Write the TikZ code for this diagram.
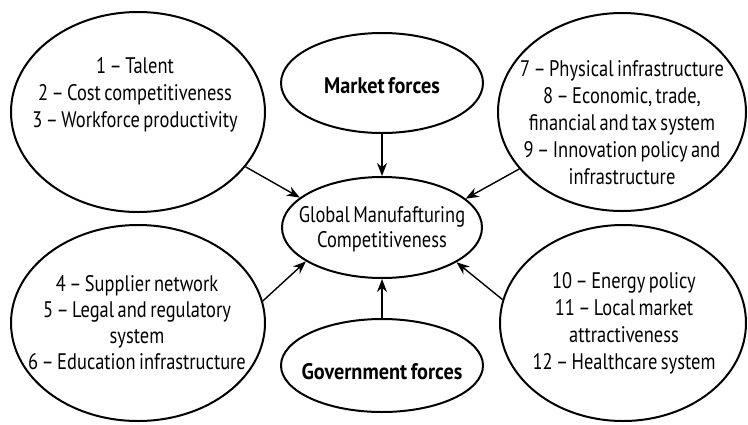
\documentclass[tikz,border=0pt]{standalone}
\usepackage{fontspec}
\setmainfont{PT Sans}[FakeStretch=0.82, WordSpace=0.7]
\usetikzlibrary{shapes.geometric,arrows.meta}
\begin{document}
\begin{tikzpicture}[x=1pt,y=-1pt,
  oval/.style={draw, line width=2pt, ellipse, inner sep=0pt},
  txt/.style={align=center, inner sep=0pt, font=\fontsize{22.5}{27}\selectfont},
  bold/.style={txt, font=\fontsize{22.5}{27}\selectfont\bfseries\addfontfeature{FakeStretch=0.9}},
  link/.style={line width=1.4pt, -{Stealth[length=13pt,width=10pt]}}]
\useasboundingbox (0,0) rectangle (748,424);

% outer factor groups
\node[oval, minimum width=254pt, minimum height=200pt] (tl) at (138,112) {};
\node[oval, minimum width=248pt, minimum height=198pt] (tr) at (622,112) {};
\node[oval, minimum width=254pt, minimum height=196pt] (bl) at (138,323) {};
\node[oval, minimum width=246pt, minimum height=196pt] (br) at (623,323) {};

% forces and the central outcome
\node[oval, minimum width=202pt, minimum height=100pt] (mf) at (382,83) {};
\node[oval, minimum width=202pt, minimum height=93pt] (gf) at (382,365.5) {};
\node[oval, minimum width=200pt, minimum height=101pt] (c) at (382,227.5) {};

% texts
\node[txt] (tltext) at (135,95) {1 -- Talent\\2 -- Cost competitiveness\\3 -- Workforce productivity};
\node[txt] (trtext) at (622,123) {7 -- Physical infrastructure\\8 -- Economic, trade,\\financial and tax system\\9 -- Innovation policy and\\infrastructure};
\node[txt, font=\fontsize{22.5}{26}\selectfont] (bltext) at (137,323) {4 -- Supplier network\\5 -- Legal and regulatory\\system\\6 -- Education infrastructure};
\node[txt] (brtext) at (624,323) {10 -- Energy policy\\11 -- Local market\\attractiveness\\12 -- Healthcare system};
\node[bold] (mftext) at (382,86) {Market forces};
\node[bold] (gftext) at (382,372) {Government forces};
\node[txt, font=\fontsize{22.5}{25}\selectfont] (ctext) at (382,229.5) {Global Manufafturing\\Competitiveness};

% influences on competitiveness
\draw[link] (tl.-27.6) -- (c.160.9);
\draw[link] (tr.209) -- (c.19.1);
\draw[link] (bl.10.5) -- (c.204.2);
\draw[link] (br.169) -- (c.-25.1);
\draw[link] (mf.south) -- (c.north);
\draw[link] (gf.north) -- (c.south);
\end{tikzpicture}
\end{document}
